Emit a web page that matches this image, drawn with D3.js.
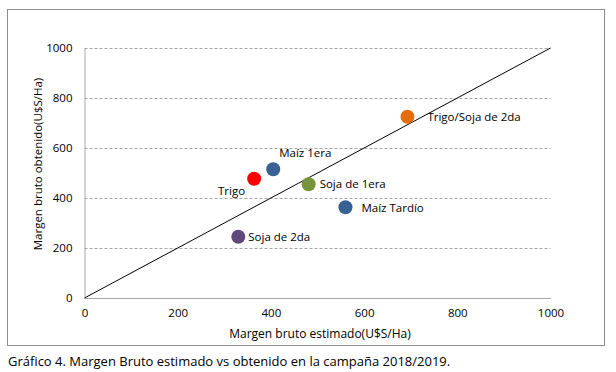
<!DOCTYPE html>
<html><head><meta charset="utf-8">
<script src="https://cdn.jsdelivr.net/npm/d3@7"></script>
<style>body{margin:0;background:#fff;}svg{display:block;font-family:"Open Sans",sans-serif;}</style>
</head><body><svg id="c" width="616" height="372"></svg>
<script>
const names = ["Trigo/Soja de 2da","Maíz 1era","Trigo","Soja de 1era","Maíz Tardío","Soja de 2da"];
const estimado = [693, 405, 364, 481, 560, 330];
const obtenido = [725, 515, 477, 455, 363, 245];
const colors = ["#E46C0A","#3A6193","#FF0000","#77933C","#3A6193","#5F497A"];
const ticks = [0,200,400,600,800,1000];

// label offsets relative to marker (dx, dy, anchor)
const labelOff = [[20,4,"start"],[6,-12,"start"],[-9,16,"end"],[11,4,"start"],[16,5,"start"],[10,4,"start"]];

const svg = d3.select("#c");
const x = d3.scaleLinear().domain([0,1000]).range([84.5,550.5]);
const y = d3.scaleLinear().domain([0,1000]).range([298,48]);

svg.append("rect").attr("x",7.5).attr("y",9.5).attr("width",597).attr("height",336)
  .attr("fill","none").attr("stroke","#8c8c8c").attr("stroke-width",1);

// gridlines
svg.append("g").selectAll("line").data(ticks.filter(d=>d>0)).join("line")
  .attr("x1",x(0)).attr("x2",x(1000)).attr("y1",d=>Math.round(y(d))+0.5).attr("y2",d=>Math.round(y(d))+0.5)
  .attr("stroke","#a6a6a6").attr("stroke-dasharray","3,2").attr("stroke-width",1);

// axes
const ax = svg.append("g").attr("transform",`translate(0,${y(0)})`).call(d3.axisBottom(x).tickValues(ticks).tickFormat(d3.format("d")).tickSize(0).tickPadding(11));
const ay = svg.append("g").attr("transform",`translate(${x(0)},0)`).call(d3.axisLeft(y).tickValues(ticks).tickFormat(d3.format("d")).tickSize(0).tickPadding(12));
[ax,ay].forEach(a=>{a.select(".domain").attr("stroke","#a6a6a6");a.selectAll("text").attr("font-size",11.5).attr("fill","#000").attr("font-family","Open Sans");});

// diagonal
svg.append("line").attr("x1",x(0)).attr("y1",y(0)).attr("x2",x(1000)).attr("y2",y(1000))
  .attr("stroke","#000").attr("stroke-width",1);

// points
svg.append("g").selectAll("circle").data(names).join("circle")
  .attr("cx",(d,i)=>x(estimado[i])).attr("cy",(d,i)=>y(obtenido[i])).attr("r",7)
  .attr("fill",(d,i)=>colors[i]);

svg.append("g").selectAll("text").data(names).join("text")
  .attr("x",(d,i)=>x(estimado[i])+labelOff[i][0])
  .attr("y",(d,i)=>y(obtenido[i])+labelOff[i][1])
  .attr("text-anchor",(d,i)=>labelOff[i][2])
  .attr("font-size",11.5).text(d=>d);

// axis titles
svg.append("text").attr("x",320).attr("y",338).attr("text-anchor","middle").attr("font-size",12).text("Margen bruto estimado(U$S/Ha)");
svg.append("text").attr("transform","translate(42,164) rotate(-90)").attr("text-anchor","middle").attr("font-size",11.5).text("Margen bruto obtenido(U$S/Ha)");

// caption
svg.append("text").attr("x",8).attr("y",366).attr("font-size",13).text("Gráfico 4. Margen Bruto estimado vs obtenido en la campaña 2018/2019.");
</script></body></html>
